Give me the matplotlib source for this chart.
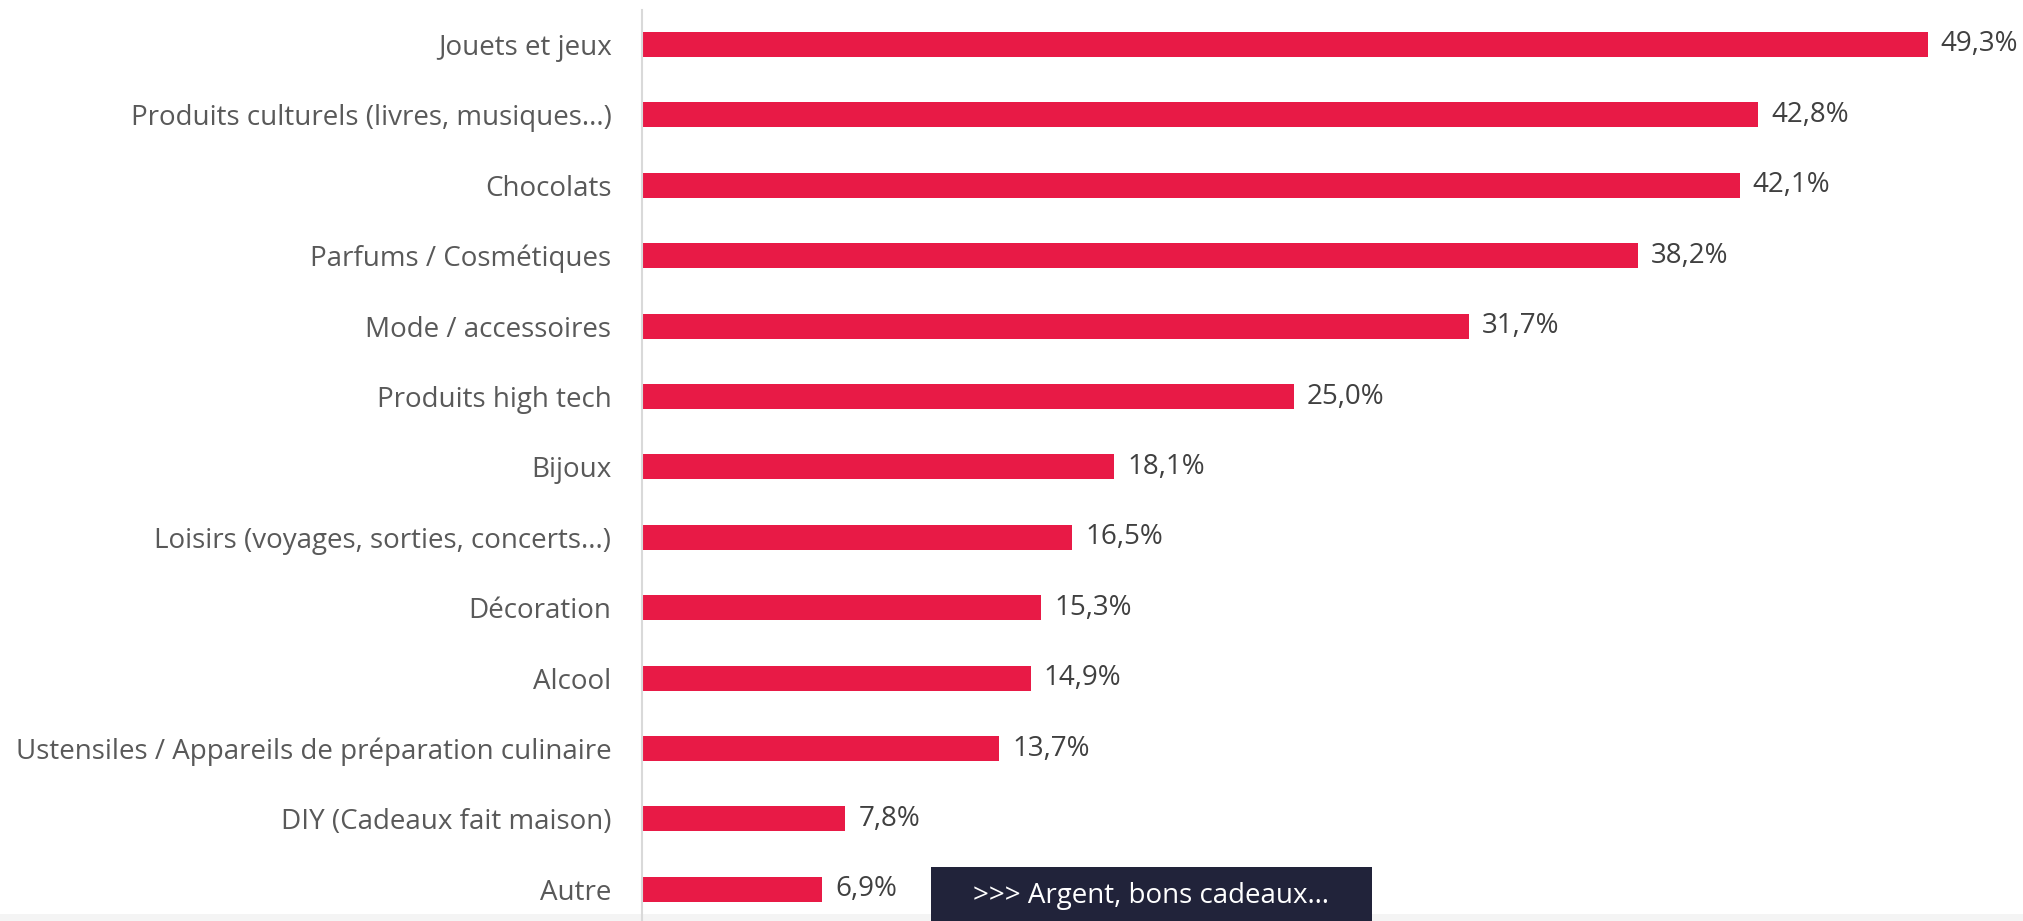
import matplotlib.pyplot as plt
from matplotlib.patches import Rectangle

plt.rcParams['font.family'] = ['Open Sans', 'DejaVu Sans']

categories = ["Jouets et jeux", "Produits culturels (livres, musiques...)", "Chocolats",
              "Parfums / Cosmétiques", "Mode / accessoires", "Produits high tech", "Bijoux",
              "Loisirs (voyages, sorties, concerts...)", "Décoration", "Alcool",
              "Ustensiles / Appareils de préparation culinaire", "DIY (Cadeaux fait maison)", "Autre"]
values = [49.3, 42.8, 42.1, 38.2, 31.7, 25.0, 18.1, 16.5, 15.3, 14.9, 13.7, 7.8, 6.9]

bar_color = "#E81A46"
text_color = "#595959"

fig = plt.figure(figsize=(20.24, 9.21), dpi=100)
ax = fig.add_axes([642 / 2024, 0, 1 - 642 / 2024, 1 - 10 / 921])
ax.patch.set_visible(False)

pos = list(range(len(categories)))
bars = ax.barh(pos, values, height=0.355, color=bar_color)

for bar, v in zip(bars, values):
    ax.text(bar.get_width() + 0.5, bar.get_y() + bar.get_height() / 2,
            f"{v:.1f}%".replace(".", ","), va="center", ha="left",
            fontsize=20, color="#404040")

ax.set_xlim(0, 53)
ax.set_ylim(12.45, -0.49)
ax.set_yticks(pos)
ax.set_yticklabels(categories, fontsize=20, color=text_color)
ax.tick_params(axis='y', length=0, pad=22)
ax.set_xticks([])
for s in ["top", "right", "bottom"]:
    ax.spines[s].set_visible(False)
ax.spines["left"].set_color("#d9d9d9")
ax.spines["left"].set_linewidth(1.5)

# bottom strip and dark button
fig.patches.append(Rectangle((0, 0), 1, 7 / 921, transform=fig.transFigure,
                             facecolor="#f4f4f4", edgecolor="none", zorder=-1))
fig.patches.append(Rectangle((931 / 2024, 0), 441 / 2024, 54 / 921, transform=fig.transFigure,
                             facecolor="#21233a", edgecolor="none", zorder=5))
fig.text(1151 / 2024, 1 - 896 / 921, ">>> Argent, bons cadeaux…", color="white",
         fontsize=20, ha="center", va="center", zorder=6)

fig.savefig("out.png", dpi=100)
